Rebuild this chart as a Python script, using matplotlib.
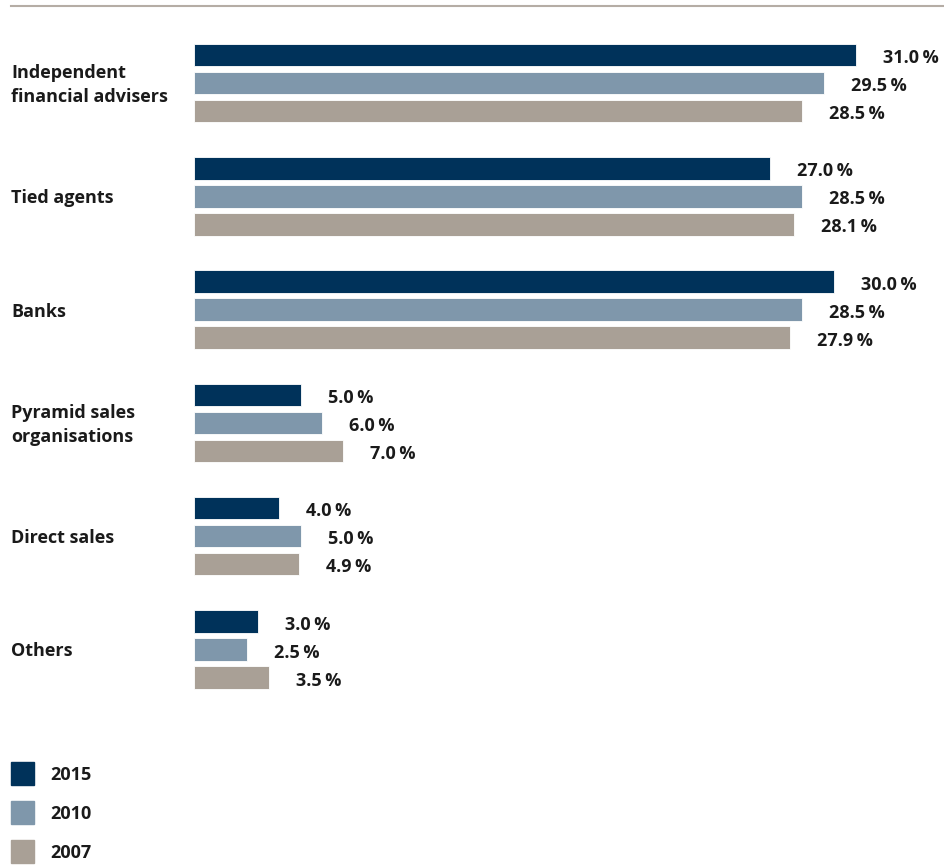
import numpy as np
import matplotlib.pyplot as plt
from matplotlib.patches import Rectangle
from matplotlib.lines import Line2D
from matplotlib.transforms import blended_transform_factory

plt.rcParams['font.family'] = ['Open Sans', 'DejaVu Sans']

# data
categories = ['Independent\nfinancial advisers', 'Tied agents', 'Banks',
              'Pyramid sales\norganisations', 'Direct sales', 'Others']
years = ['2015', '2010', '2007']
v2015 = [31.0, 27.0, 30.0, 5.0, 4.0, 3.0]
v2010 = [29.5, 28.5, 28.5, 6.0, 5.0, 2.5]
v2007 = [28.5, 28.1, 27.9, 7.0, 4.9, 3.5]
colors = ['#00325a', '#7f97ab', '#a9a096']

W, H = 945, 865
fig = plt.figure(figsize=(W / 100, H / 100), dpi=100)

# axes from bar origin to right edge, full height
x0 = 194
ax = fig.add_axes([x0 / W, 0, 1 - x0 / W, 1])
pitch = 113.3
ax.set_xlim(0, (W - x0) / 21.35)
ax.set_ylim((H - 83) / pitch, -83 / pitch)
ax.axis('off')

ind = np.arange(len(categories))
off = 28 / pitch
h = 22.5 / pitch
for j, vals in enumerate([v2015, v2010, v2007]):
    y = ind + (j - 1) * off
    ax.barh(y, vals, height=h, color=colors[j], edgecolor='white', linewidth=0.6)
    for yy, v in zip(y, vals):
        ax.annotate(f'{v:.1f}\u2009%', (v, yy), xytext=(27, -3), textcoords='offset pixels',
                    ha='left', va='center', fontsize=13, fontweight='bold', color='#1a1a1a')

# category labels
tr = blended_transform_factory(fig.transFigure, ax.transData)
for i, c in enumerate(categories):
    ax.annotate(c, (11 / W, i), xycoords=tr, xytext=(0, -2), textcoords='offset pixels',
                ha='left', va='center', fontsize=13, fontweight='bold',
                color='#1a1a1a', linespacing=1.45)

# top rule
fig.add_artist(Line2D([11 / W, 1], [1 - 6 / H, 1 - 6 / H], color='#b5ada5', lw=1.5))

# legend
for j, yr in enumerate(years):
    yc = 773 + j * 39
    fig.add_artist(Rectangle((11 / W, 1 - (yc + 11.5) / H), 23 / W, 23 / H,
                             transform=fig.transFigure, color=colors[j]))
    fig.text(50 / W, 1 - (yc + 2) / H, yr, ha='left', va='center', fontsize=13,
             fontweight='bold', color='#1a1a1a')

fig.savefig('out.png', dpi=100)
